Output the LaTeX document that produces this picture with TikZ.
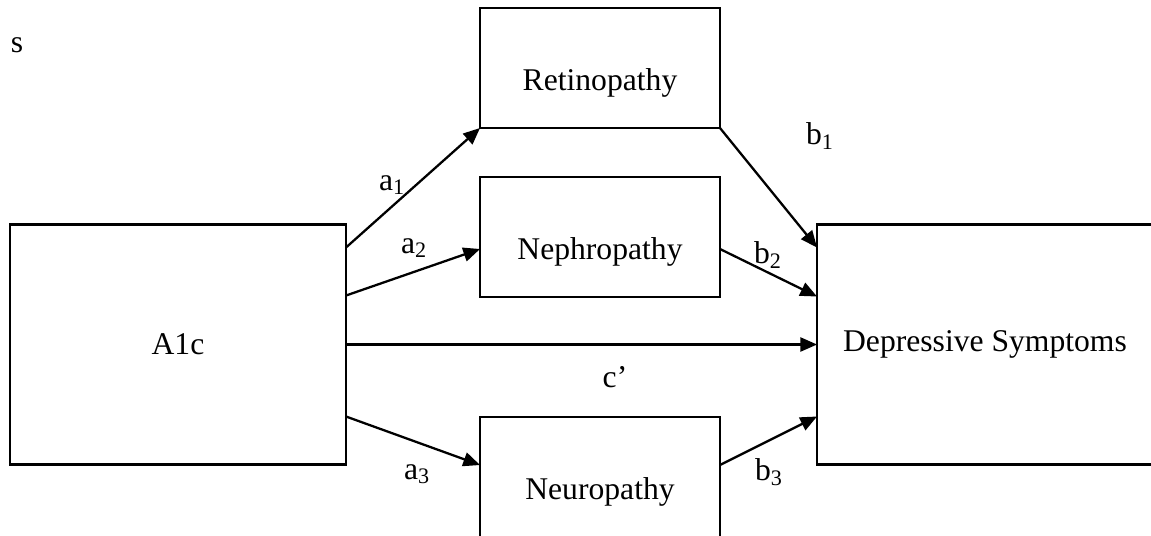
\documentclass[tikz,border=0pt]{standalone}
\usepackage{fontspec}
\setmainfont{Liberation Serif}
\usepackage{tikz}
\usetikzlibrary{arrows.meta,positioning,calc}

\begin{document}
\begin{tikzpicture}[
  x=0.02cm, y=-0.02cm,
  every node/.style={font=\fontsize{18}{22}\selectfont},
  bigbox/.style={draw, line width=1.3pt, outer sep=0pt, minimum width=6.72cm, minimum height=4.8cm},
  medbox/.style={draw, line width=1.3pt, outer sep=0pt, minimum width=4.8cm, minimum height=2.4cm, text height=31pt, text depth=5pt},
  path/.style={-{Triangle[length=9.5pt, width=8pt]}, line width=1.3pt},
  lbl/.style={inner sep=0pt}
]
\useasboundingbox (0,0) rectangle (1151,535);
\clip (0,0) rectangle (1151,535);

\node[lbl] (corner) at (17,45) {s};

\node[bigbox] (a1c) at (178,344.5) {A1c};
\node[bigbox] (dep) at (985,344.5) {Depressive Symptoms};
\node[medbox] (retino) at (600,68) {Retinopathy};
\node[medbox] (nephro) at (600,237) {Nephropathy};
\node[medbox] (neuro) at (600,477) {Neuropathy};

% paths from A1c
\draw[path] ($(a1c.north east)+(0,23)$) -- (retino.south west);
\draw[path] ($(a1c.north east)+(0,71)$) -- ($(nephro.west)+(0,12)$);
\draw[path] (a1c.east) -- (dep.west);
\draw[path] ($(a1c.south east)+(0,-48)$) -- ($(neuro.north west)+(0,48)$);

% paths to depressive symptoms
\draw[path] (retino.south east) -- ($(dep.north west)+(0,23)$);
\draw[path] ($(nephro.east)+(0,12)$) -- ($(dep.north west)+(0,72)$);
\draw[path] ($(neuro.north east)+(0,48)$) -- ($(dep.south west)+(0,-48)$);

% coefficients
\node[lbl] (la1) at (392,185) {a\textsubscript{1}};
\node[lbl] (la2) at (414,248) {a\textsubscript{2}};
\node[lbl] (la3) at (417,474) {a\textsubscript{3}};
\node[lbl] (lb1) at (820,136) {b\textsubscript{1}};
\node[lbl] (lb2) at (768,255) {b\textsubscript{2}};
\node[lbl] (lb3) at (769,472) {b\textsubscript{3}};
\node[lbl] (lc) at (615,377) {c’};
\end{tikzpicture}
\end{document}
